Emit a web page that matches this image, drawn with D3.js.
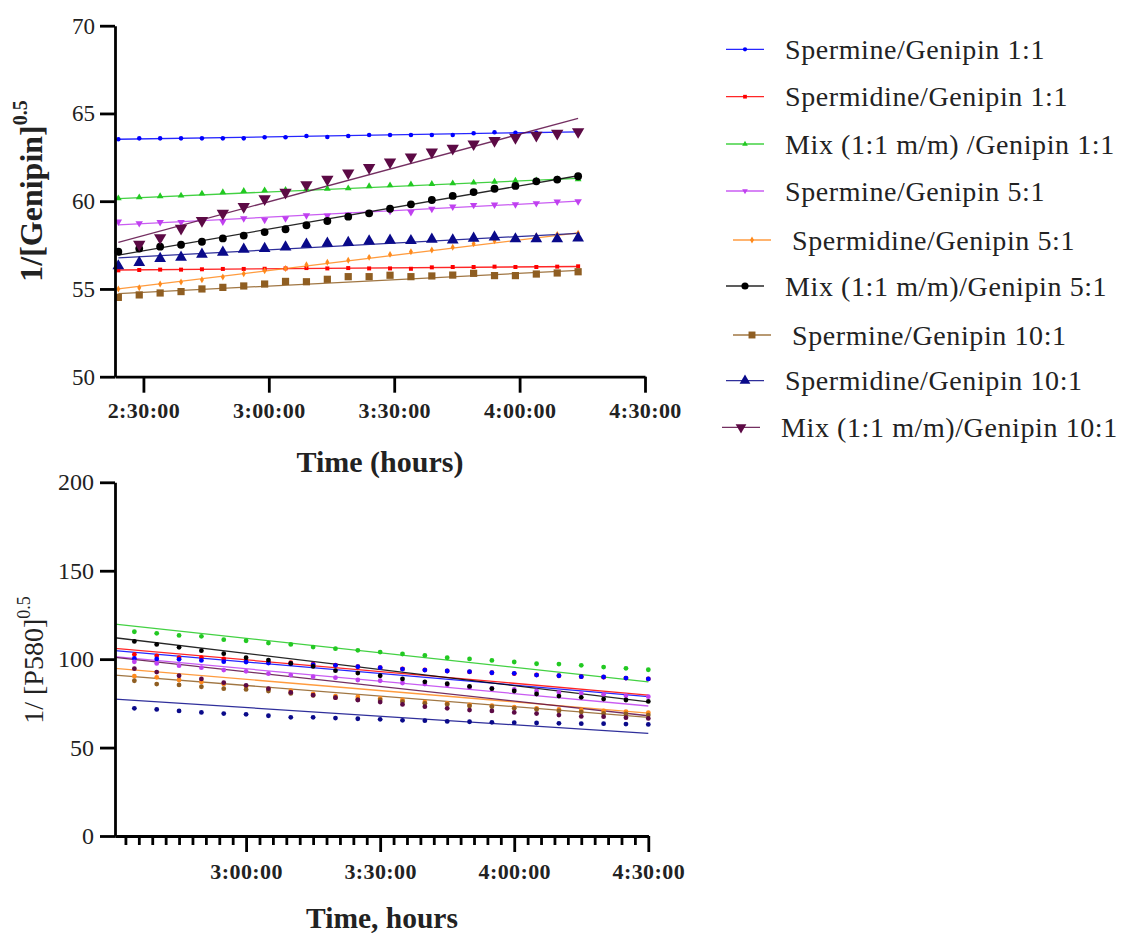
<!DOCTYPE html>
<html>
<head>
<meta charset="utf-8">
<script src="https://cdn.jsdelivr.net/npm/d3@7"></script>
<style>
  html, body { margin: 0; padding: 0; background: #fff; }
  svg { display: block; }
  text { font-family: "Liberation Serif", "Times New Roman", serif; fill: #222; }
</style>
</head>
<body>
<svg id="chart" width="1125" height="934"></svg>
<script>
// ---------------- DATA ----------------
const seriesNames = [
  "Spermine/Genipin 1:1",
  "Spermidine/Genipin 1:1",
  "Mix (1:1 m/m) /Genipin 1:1",
  "Spermine/Genipin 5:1",
  " Spermidine/Genipin 5:1",
  "Mix (1:1 m/m)/Genipin 5:1",
  " Spermine/Genipin 10:1",
  "Spermidine/Genipin 10:1",
  "Mix (1:1 m/m)/Genipin 10:1"
];

// top panel: 1/[Genipin]^0.5
const topTimes = ["2:24:00","2:29:00","2:34:00","2:39:00","2:44:00","2:49:00","2:54:00","2:59:00",
  "3:04:00","3:09:00","3:14:00","3:19:00","3:24:00","3:29:00","3:34:00","3:39:00","3:44:00",
  "3:49:00","3:54:00","3:59:00","4:04:00","4:09:00","4:14:00"];
const topSpermine11 = [63.53,63.58,63.58,63.58,63.58,63.58,63.58,63.64,63.64,63.71,63.66,63.71,63.77,63.77,63.77,63.77,63.77,63.87,63.93,63.90,63.90,63.90,63.93];
const topSpermidine11 = [56.06,56.08,56.10,56.10,56.12,56.14,56.14,56.15,56.17,56.19,56.17,56.19,56.17,56.17,56.15,56.23,56.25,56.25,56.27,56.25,56.25,56.27,56.29];
const topMix11 = [60.16,60.22,60.28,60.32,60.43,60.51,60.58,60.62,60.64,60.68,60.71,60.73,60.85,60.90,60.96,60.98,61.02,61.06,61.11,61.17,61.19,61.25,61.25];
const topSpermine51 = [58.83,58.74,58.80,58.80,58.93,58.83,59.02,58.93,59.02,59.19,59.18,59.23,59.35,59.44,59.37,59.56,59.69,59.78,59.80,59.82,59.88,59.97,59.99];
const topSpermidine51 = [55.00,55.07,55.28,55.40,55.53,55.68,55.87,56.04,56.17,56.38,56.52,56.63,56.80,56.97,57.12,57.22,57.37,57.58,57.75,57.88,58.02,58.11,58.17];
const topMix51 = [57.12,57.30,57.41,57.52,57.69,57.88,58.04,58.24,58.40,58.63,58.87,59.12,59.31,59.57,59.82,60.07,60.30,60.52,60.71,60.87,61.13,61.23,61.42];
const topSpermine101 = [54.52,54.66,54.77,54.85,55.00,55.09,55.17,55.28,55.43,55.41,55.55,55.70,55.70,55.78,55.70,55.74,55.79,55.89,55.76,55.76,55.85,55.91,55.98];
const topSpermidine101 = [56.31,56.50,56.73,56.80,56.97,57.09,57.26,57.30,57.39,57.54,57.60,57.64,57.73,57.77,57.75,57.83,57.79,57.88,57.96,57.85,57.85,57.85,57.90];
const topMix101 = [null,57.54,57.92,58.45,58.89,59.31,59.69,60.13,60.51,60.94,61.25,61.61,61.91,62.23,62.52,62.80,63.01,63.26,63.45,63.62,63.75,63.87,63.96];
// fitted straight lines (value at first and last time of top panel)
const topFitStart = [63.53,56.08,60.15,58.65,55.00,56.93,54.73,56.77,57.66];
const topFitEnd   = [63.95,56.28,61.30,60.00,58.20,61.45,56.06,58.17,64.72];
const topYTicks = [50,55,60,65,70];
const topXTicks = ["2:30:00","3:00:00","3:30:00","4:00:00","4:30:00"];

// bottom panel: 1/[P580]^0.5
const botTimes = ["2:35:00","2:40:00","2:45:00","2:50:00","2:55:00","3:00:00","3:05:00","3:10:00",
  "3:15:00","3:20:00","3:25:00","3:30:00","3:35:00","3:40:00","3:45:00","3:50:00","3:55:00",
  "4:00:00","4:05:00","4:10:00","4:15:00","4:20:00","4:25:00","4:30:00"];
const botSpermine11 = [100.4,100.1,99.9,99.3,98.6,98.4,97.8,97.4,96.9,96.5,95.7,95.2,94.4,93.8,93.3,92.9,92.3,92.0,91.0,90.6,90.1,89.9,89.3,88.8];
const botSpermidine11 = [102.7,101.9,100.8,100.8,100.1,98.9,98.2,98.0,97.2,96.6,95.8,95.2,94.5,93.9,93.3,92.8,92.3,91.8,91.1,90.6,90.1,89.8,89.3,88.8];
const botMix11 = [115.5,114.6,113.4,112.9,111.0,110.4,109.1,108.3,106.8,105.9,105.0,104.0,102.9,102.1,100.8,100.1,99.3,98.4,97.4,97.2,96.5,95.5,94.8,94.0];
const botSpermine51 = [98.5,97.6,96.3,95.2,93.8,93.1,91.8,91.0,90.1,89.5,88.2,87.8,86.5,85.9,85.4,84.0,83.5,82.9,82.0,81.2,80.7,80.1,79.3,78.8];
const botSpermidine51 = [90.4,89.7,88.2,87.1,85.9,84.6,83.1,82.2,80.3,79.1,78.6,77.8,76.9,75.7,75.0,74.2,73.7,72.9,72.2,71.6,71.2,70.7,70.3,69.7];
const botMix51 = [110.0,108.3,106.7,104.8,103.1,100.8,99.5,97.6,95.9,93.5,92.1,90.6,88.8,87.2,86.1,84.6,83.3,82.0,80.3,79.1,78.4,77.4,76.9,76.1];
const botSpermine101 = [87.8,85.9,85.4,84.4,83.3,82.9,82.0,80.6,79.5,78.2,77.1,76.9,75.9,75.0,74.4,73.5,73.1,72.2,71.6,70.7,70.1,69.3,69.0,68.4];
const botSpermidine101 = [72.2,71.6,70.7,69.9,69.2,68.8,68.0,67.1,67.1,66.7,66.3,66.0,65.4,65.2,64.8,64.6,64.3,64.1,63.9,63.7,63.5,63.5,63.3,63.1];
const botMix101 = [94.6,92.7,90.6,88.8,86.7,85.2,83.3,81.2,79.7,78.2,76.9,75.7,74.4,73.1,72.2,71.2,70.7,69.9,69.2,68.4,67.6,67.5,66.9,66.5];
// model lines (value at start of axis and at 4:30:00)
const botFitStart = [104.8,106.1,119.8,101.4,94.8,112.1,91.0,77.4,101.0];
const botFitEnd   = [78.8,79.7,87.2,73.5,69.5,75.9,67.1,58.0,68.0];
const botYTicks = [0,50,100,150,200];
const botXTicks = ["3:00:00","3:30:00","4:00:00","4:30:00"];
const botAxisStart = "2:30:40";

// ---------------- STYLE ----------------
const colors = ["#0000ff","#ff0000","#22c922","#c040f0","#ff8a1c","#000000","#8f5e22","#0a0a8a","#5c0a45"];
const topShapes = ["circle","square","triangle","tridown","diamond","circle","square","triangle","tridown"];
const topSizes  = [16,16,20,24,14,48,52,60,66];
const legendShift = [0,0,0,0,7,0,7,0,-4];

const toMin = s => { const p = s.split(":").map(Number); return p[0]*60 + p[1] + (p[2]||0)/60; };
const fmt = m => { const h = Math.floor(m/60), mm = Math.round(m - h*60); return h + ":" + String(mm).padStart(2,"0") + ":00"; };

const topData = [topSpermine11, topSpermidine11, topMix11, topSpermine51, topSpermidine51, topMix51, topSpermine101, topSpermidine101, topMix101];
const botData = [botSpermine11, botSpermidine11, botMix11, botSpermine51, botSpermidine51, botMix51, botSpermine101, botSpermidine101, botMix101];

const svg = d3.select("#chart");

function symbolPath(shape, size) {
  const map = {circle: d3.symbolCircle, square: d3.symbolSquare, triangle: d3.symbolTriangle, tridown: d3.symbolTriangle, diamond: d3.symbolDiamond};
  return d3.symbol().type(map[shape]).size(size)();
}
function symbolTransform(shape, x, y) {
  return `translate(${x},${y})` + (shape === "tridown" ? " rotate(180)" : "");
}

// ---------------- TOP PANEL ----------------
const topX = d3.scaleLinear().domain([toMin("2:23:12"), toMin("4:30:00")]).range([115, 645]);
const topY = d3.scaleLinear().domain([50, 70]).range([376.7, 25.7]);
const gTop = svg.append("g");

topData.forEach((s, i) => {
  const t0 = toMin(topTimes[0]), t1 = toMin(topTimes[topTimes.length-1]);
  gTop.append("line")
    .attr("x1", topX(t0)).attr("y1", topY(topFitStart[i]))
    .attr("x2", topX(t1)).attr("y2", topY(topFitEnd[i]))
    .attr("stroke", colors[i]).attr("stroke-width", 1.3).attr("stroke-opacity", 0.85);
});
topData.forEach((s, i) => {
  gTop.append("g").selectAll("path")
    .data(s.map((v, j) => ({t: toMin(topTimes[j]), v})).filter(d => d.v != null))
    .join("path")
    .attr("d", symbolPath(topShapes[i], topSizes[i]))
    .attr("transform", d => symbolTransform(topShapes[i], topX(d.t), topY(d.v)))
    .attr("fill", colors[i]);
});

const topYAxis = d3.axisLeft(topY).tickValues(topYTicks).tickSize(15).tickSizeOuter(0).tickPadding(5);
const gTYA = gTop.append("g").attr("transform", "translate(115,0)").call(topYAxis);
const topXAxis = d3.axisBottom(topX).tickValues(topXTicks.map(toMin)).tickFormat(fmt).tickSize(16).tickSizeOuter(0).tickPadding(10);
const gTXA = gTop.append("g").attr("transform", "translate(0,376.7)").call(topXAxis);
[gTYA, gTXA].forEach(g => {
  g.select(".domain").attr("stroke", "#000").attr("stroke-width", 2.8);
  g.selectAll(".tick line").attr("stroke", "#000").attr("stroke-width", 2.8);
});
gTYA.selectAll("text").attr("font-size", 23).attr("fill", "#222").attr("font-family", "Liberation Serif");
gTXA.selectAll("text").attr("font-size", 22).attr("font-weight", "bold").attr("fill", "#222").attr("font-family", "Liberation Serif")
  .attr("letter-spacing", 0.4);

gTop.append("text").attr("x", 380).attr("y", 472).attr("text-anchor", "middle")
  .attr("font-size", 30).attr("font-weight", "bold").text("Time (hours)");
const tyl = gTop.append("text").attr("transform", "translate(42,191) rotate(-90)")
  .attr("text-anchor", "middle").attr("font-size", 32).attr("font-weight", "bold");
tyl.append("tspan").text("1/[Genipin]");
tyl.append("tspan").attr("font-size", 20).attr("dy", -15).text("0.5");

// legend
const leg = svg.append("g");
const legRowY = [49.3, 96.7, 144, 191, 240, 286, 335, 380.7, 427.3];
const legSizes = [14,14,14,14,14,40,48,50,50];
seriesNames.forEach((name, i) => {
  const x0 = 726 + legendShift[i], y = legRowY[i];
  leg.append("line").attr("x1", x0).attr("x2", x0 + 38).attr("y1", y).attr("y2", y)
    .attr("stroke", colors[i]).attr("stroke-width", 1.3).attr("stroke-opacity", 0.85);
  leg.append("path").attr("d", symbolPath(topShapes[i], legSizes[i]))
    .attr("transform", symbolTransform(topShapes[i], x0 + 19, y)).attr("fill", colors[i]);
  leg.append("text").attr("x", x0 + 59).attr("y", y + 9.5).attr("font-size", 28).attr("letter-spacing", 0.6)
    .text(name.trim());
});

// ---------------- BOTTOM PANEL ----------------
const botX = d3.scaleLinear().domain([toMin(botAxisStart), toMin("4:30:00")]).range([115, 648.3]);
const botY = d3.scaleLinear().domain([0, 200]).range([836, 482.3]);
const gBot = svg.append("g");

botData.forEach((s, i) => {
  gBot.append("line")
    .attr("x1", botX(toMin(botAxisStart))).attr("y1", botY(botFitStart[i]))
    .attr("x2", botX(toMin("4:30:00"))).attr("y2", botY(botFitEnd[i]))
    .attr("stroke", colors[i]).attr("stroke-width", 1.3).attr("stroke-opacity", 0.85);
});
const drawOrder = [1,0,2,3,4,5,6,7,8];
drawOrder.forEach(i => {
  gBot.append("g").selectAll("circle")
    .data(botData[i].map((v, j) => ({t: toMin(botTimes[j]), v})))
    .join("circle")
    .attr("cx", d => botX(d.t)).attr("cy", d => botY(d.v)).attr("r", 2.4)
    .attr("fill", colors[i]);
});

const botYAxis = d3.axisLeft(botY).tickValues(botYTicks).tickSize(15).tickSizeOuter(0).tickPadding(6);
const gBYA = gBot.append("g").attr("transform", "translate(115,0)").call(botYAxis);
const minorVals = d3.range(toMin("2:33:00"), toMin("4:30:00"), 3).filter(m => (m % 30) !== 0);
const gBXm = gBot.append("g").attr("transform", "translate(0,836)")
  .call(d3.axisBottom(botX).tickValues(minorVals).tickFormat("").tickSize(9).tickSizeOuter(0));
const botXAxis = d3.axisBottom(botX).tickValues(botXTicks.map(toMin)).tickFormat(fmt).tickSize(16).tickSizeOuter(0).tickPadding(11);
const gBXA = gBot.append("g").attr("transform", "translate(0,836)").call(botXAxis);
[gBYA, gBXm, gBXA].forEach(g => {
  g.select(".domain").attr("stroke", "#000").attr("stroke-width", 2.8);
  g.selectAll(".tick line").attr("stroke", "#000").attr("stroke-width", 2.8);
});
gBYA.selectAll("text").attr("font-size", 24).attr("fill", "#222").attr("font-family", "Liberation Serif");
gBXA.selectAll("text").attr("font-size", 22).attr("font-weight", "bold").attr("fill", "#222").attr("font-family", "Liberation Serif")
  .attr("letter-spacing", 0.4);

gBot.append("text").attr("x", 382).attr("y", 928).attr("text-anchor", "middle")
  .attr("font-size", 29.5).attr("font-weight", "bold").text("Time, hours");
const byl = gBot.append("text").attr("transform", "translate(43,660) rotate(-90)")
  .attr("text-anchor", "middle").attr("font-size", 28);
byl.append("tspan").text("1/ [P580]");
byl.append("tspan").attr("font-size", 18).attr("dy", -13).text("0.5");
</script>
</body>
</html>
